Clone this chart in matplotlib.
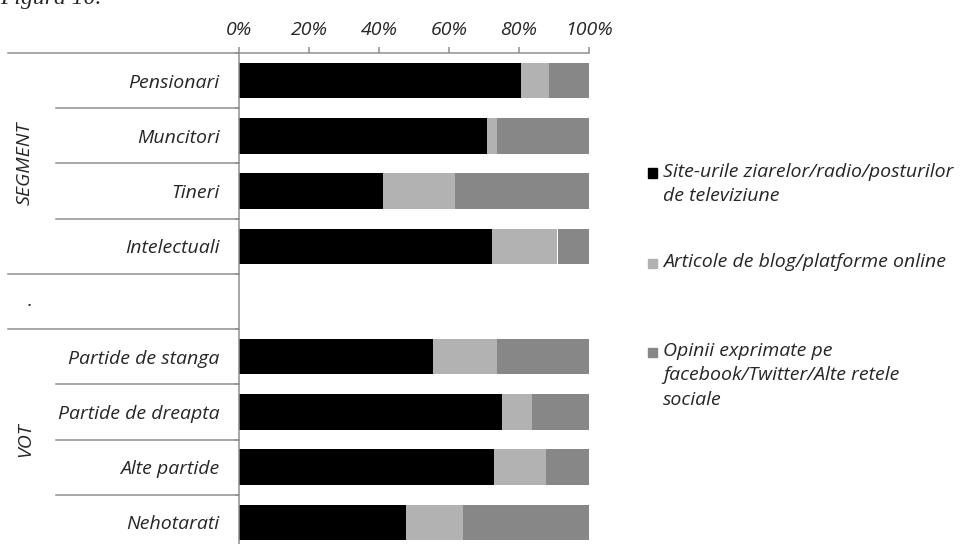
import matplotlib
matplotlib.use('Agg')
import matplotlib.pyplot as plt
from matplotlib.patches import Rectangle
from matplotlib.ticker import PercentFormatter

plt.rcParams['font.family'] = ['Open Sans', 'DejaVu Sans']
plt.rcParams['font.style'] = 'italic'

# categorii (de sus in jos), randul gol separa grupurile
categorii = ['Pensionari', 'Muncitori', 'Tineri', 'Intelectuali', '',
             'Partide de stanga', 'Partide de dreapta', 'Alte partide', 'Nehotarati']
grupuri = ['SEGMENT', '.', 'VOT']

# procente pe surse de informare
site_uri = [80.5, 70.8, 41.0, 72.3, 0, 55.5, 75.2, 72.8, 47.6]
bloguri = [8.1, 2.9, 20.7, 18.7, 0, 18.2, 8.4, 14.9, 16.4]
retele = [11.4, 26.3, 38.3, 9.0, 0, 26.3, 16.4, 12.3, 36.0]

serii = ['Site-urile ziarelor/radio/posturilor\nde televiziune',
         'Articole de blog/platforme online',
         'Opinii exprimate pe\nfacebook/Twitter/Alte retele\nsociale']
culori = ['#000000', '#b2b2b2', '#878787']

W, H = 960, 544
fs = 14
text_col = '#262626'
fig = plt.figure(figsize=(9.6, 5.44), dpi=100)

def fx(px):
    return px / W

def fy(py):
    return 1 - py / H

ax = fig.add_axes([fx(239), fy(550), fx(589) - fx(239), fy(53) - fy(550)])

y = list(range(len(categorii)))
stanga = [0] * len(categorii)
for vals, c in zip([site_uri, bloguri, retele], culori):
    v = [x / 100 for x in vals]
    ax.barh(y, v, left=stanga, height=0.64, color=c, edgecolor='none')
    stanga = [a + b for a, b in zip(stanga, v)]

ax.set_xlim(0, 1)
ax.set_ylim(len(categorii) - 0.5, -0.5)

gri = '#8f8f8f'
for s in ['right', 'bottom']:
    ax.spines[s].set_visible(False)
for s in ['top', 'left']:
    ax.spines[s].set_color(gri)
    ax.spines[s].set_linewidth(1.1)

ax.xaxis.tick_top()
ax.set_xticks([0, 0.2, 0.4, 0.6, 0.8, 1.0])
ax.xaxis.set_major_formatter(PercentFormatter(1.0, decimals=0))
ax.tick_params(axis='x', direction='out', length=4.5, width=1.1, color=gri,
               pad=5.5, labelsize=fs, labelcolor=text_col)

ax.set_yticks(y)
ax.set_yticklabels(categorii)
ax.set_yticks([i - 0.5 for i in range(len(categorii) + 1)], minor=True)
ax.tick_params(axis='y', which='major', length=0, pad=14, labelsize=fs,
               labelcolor=text_col)
ax.tick_params(axis='y', which='minor', length=3, width=1.1, color=gri)

# liniile tabelului din stanga
tr = ax.get_yaxis_transform()
x_lung = (8 - 239) / 350
x_scurt = (56 - 239) / 350
for i in range(len(categorii) + 1):
    yy = i - 0.5
    lung = yy in (-0.5, 3.5, 4.5)
    ax.plot([x_lung if lung else x_scurt, 0], [yy, yy], color=gri, lw=1.1,
            transform=tr, clip_on=False)

# etichetele grupurilor
ax.text((25 - 239) / 350, 1.5, grupuri[0], transform=tr, rotation=90,
        ha='center', va='center', fontsize=fs, color=text_col)
ax.text((30 - 239) / 350, 4.0, grupuri[1], transform=tr,
        ha='center', va='center', fontsize=fs, color=text_col)
ax.text((25 - 239) / 350, 6.5, grupuri[2], transform=tr, rotation=90,
        ha='center', va='center', fontsize=fs, color=text_col)

# legenda
rand1 = [173, 263, 352]
for eticheta, c, ry in zip(serii, culori, rand1):
    fig.add_artist(Rectangle((fx(648), fy(ry + 4.5)), fx(9), 9 / H,
                             color=c, transform=fig.transFigure))
    fig.text(fx(663), fy(ry - 10), eticheta, ha='left', va='top', fontsize=fs,
             color=text_col, linespacing=1.45)

fig.text(0, fy(4), 'Figura 10.', ha='left', va='baseline', fontsize=17,
         family='Liberation Serif', color=text_col)

fig.savefig('out.png', dpi=100)
